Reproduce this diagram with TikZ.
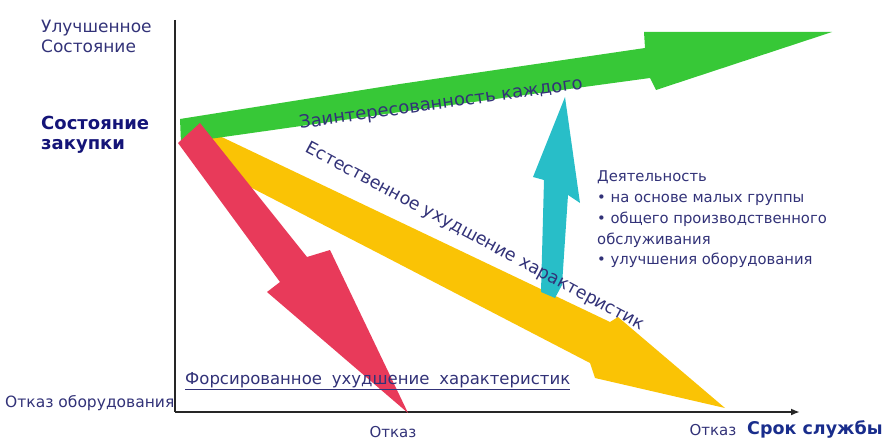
\documentclass[tikz,border=0pt]{standalone}
\usepackage{fontspec}
\setmainfont{DejaVu Sans}
\usetikzlibrary{arrows.meta}
\definecolor{txtc}{RGB}{50,50,120}
\definecolor{boldc}{RGB}{20,20,120}
\definecolor{srokc}{RGB}{25,45,140}
\definecolor{grn}{RGB}{55,200,55}
\definecolor{rd}{RGB}{232,58,90}
\definecolor{yel}{RGB}{250,195,5}
\definecolor{cyn}{RGB}{40,190,200}
\begin{document}
\begin{tikzpicture}[x=1pt,y=-1pt,
  lbl/.style={inner sep=0pt,text=txtc,font=\fontsize{15}{18}\selectfont},
  bigl/.style={inner sep=0pt,text=txtc,font=\fontsize{17}{20}\selectfont},
  boldl/.style={inner sep=0pt,text=boldc,font=\bfseries\fontsize{18}{20}\selectfont},
  actl/.style={inner sep=0pt,text=txtc,font=\fontsize{14.8}{17}\selectfont,anchor=base west},
  rotl/.style={inner sep=0pt,text=txtc,font=\fontsize{17.5}{20}\selectfont},
  axis/.style={line width=2pt,black!85}]
\useasboundingbox (0,0) rectangle (887,441);
% axes
\coordinate (ytop) at (175,20);
\coordinate (orig) at (175,412);
\coordinate (xend) at (800,412);
\draw[axis] (ytop) -- (orig);
\draw[axis,-{Latex[length=9pt,width=7pt]}] (orig) -- (xend);
% yellow arrow
\fill[yel] (207,130) -- (610,322) -- (618,317)
  -- (725,408) -- (595,378) -- (590,363) -- (380,254) -- (250,187)
  -- (210,165) -- cycle;
% green arrow
\fill[grn] (180,119) -- (400,84) -- (645,48) -- (644,32) -- (832,32) -- (656,90)
  -- (650,78) -- (400,112) -- (181,143) -- cycle;
% red arrow
\fill[rd] (178,143) -- (200,123) -- (307,257) -- (330,250) -- (408,413) -- (267,292)
  -- (280,282) -- cycle;
% cyan arrow
\fill[cyn] (541,292) -- (544,180) -- (533,177) -- (565,97) -- (580,203) -- (568,195)
  -- (562,285) -- (555,298) -- cycle;
% texts
\node[bigl,anchor=base west] (ul1) at (41,33) {Улучшенное};
\node[bigl,anchor=base west] (ul2) at (41,53) {Состояние};
\node[boldl,anchor=base west] (sz1) at (41,130) {Состояние};
\node[boldl,anchor=base west] (sz2) at (41,150) {закупки};
\node[lbl,font=\fontsize{15.5}{18}\selectfont,anchor=base west] (otk) at (5,407) {Отказ оборудования};
\node[lbl,anchor=base] (otk1) at (393,437) {Отказ};
\node[lbl,anchor=base] (otk2) at (713,435) {Отказ};
\node[boldl,font=\bfseries\fontsize{17.5}{20}\selectfont,text=srokc,anchor=base west] (srok) at (747,434) {Срок службы};
\node[bigl,font=\fontsize{16.5}{20}\selectfont,anchor=base west] (fors) at (185,384) {\underline{Форсированное\hspace{0.6em}ухудшение\hspace{0.6em}характеристик}};
\node[rotl,font=\fontsize{18}{20}\selectfont,rotate=8] (zint) at (441,104) {Заинтересованность каждого};
\node[rotl,rotate=-28] (est) at (475,237) {Естественное ухудшение характеристик};
\node[actl] (a1) at (597,182) {Деятельность};
\node[actl] (a2) at (597,203) {• на основе малых группы};
\node[actl] (a3) at (597,223) {• общего производственного};
\node[actl] (a4) at (597,244) {обслуживания};
\node[actl] (a5) at (597,264) {• улучшения оборудования};
\end{tikzpicture}
\end{document}
